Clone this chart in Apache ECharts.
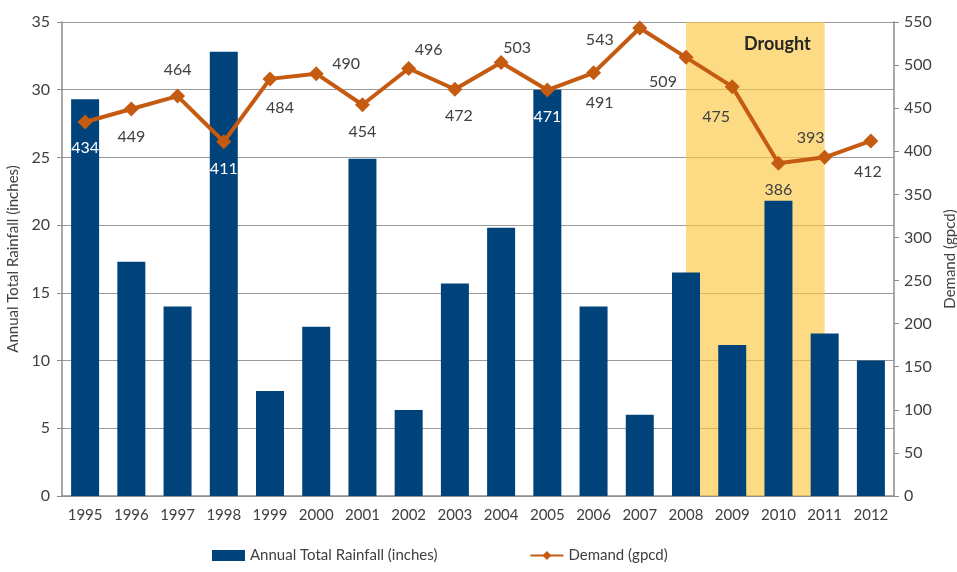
<!DOCTYPE html>
<html>
<head>
<meta charset="utf-8">
<script src="https://cdn.jsdelivr.net/npm/echarts@6/dist/echarts.min.js"></script>
<style>
  html, body { margin: 0; padding: 0; background: #fff; }
  #chart { width: 957px; height: 572px; }
</style>
</head>
<body>
<div id="chart"></div>
<script>
// 数据
var years = ['1995', '1996', '1997', '1998', '1999', '2000', '2001', '2002', '2003',
             '2004', '2005', '2006', '2007', '2008', '2009', '2010', '2011', '2012'];
var rainfall = [29.3, 17.3, 14.0, 32.8, 7.75, 12.5, 24.9, 6.35, 15.7,
                19.8, 30.0, 14.0, 6.0, 16.5, 11.15, 21.8, 12.0, 10.0];
var demand = [434, 449, 464, 411, 484, 490, 454, 496, 472,
              503, 471, 491, 543, 509, 475, 386, 393, 412];
var droughtRange = ['2008', '2011'];

// 标签摆放（相对数据点的偏移，像 Excel 里手动拖过的那样）
var labelPlace = {
    '1995': [0, 26], '1996': [0, 28], '1997': [0, -26], '1998': [0, 27],
    '1999': [10, 29], '2000': [30, -10], '2001': [0, 27], '2002': [20, -19],
    '2003': [4, 27], '2004': [16, -15], '2005': [0, 27], '2006': [6, 30],
    '2007': [-40, 12], '2008': [-23, 25], '2009': [-16, 30], '2010': [0, 27],
    '2011': [-14, -19], '2012': [-3, 31]
};
var labelsInBar = ['1995', '1998', '2005']; // 柱子里的白字

var font = 'Lato, "Open Sans", sans-serif';
var textColor = '#404040';

var demandData = demand.map(function (v, i) {
    var y = years[i];
    return {
        value: v,
        label: {
            offset: labelPlace[y],
            color: labelsInBar.indexOf(y) >= 0 ? '#ffffff' : textColor
        }
    };
});

var myChart = echarts.init(document.getElementById('chart'));
var option = {
    animation: false,
    textStyle: { fontFamily: font },
    grid: { left: 62, right: 63, top: 22, bottom: 76, outerBoundsMode: 'none' },
    legend: {
        bottom: 4,
        left: 207,
        itemGap: 92,
        itemWidth: 33,
        itemHeight: 11,
        textStyle: { fontFamily: font, fontSize: 15, color: textColor },
        data: [
            { name: 'Annual Total Rainfall (inches)', icon: 'rect' },
            { name: 'Demand (gpcd)' }
        ]
    },
    xAxis: [{
        type: 'category',
        data: years,
        axisLine: { lineStyle: { color: '#8c8c8c', width: 1.5 } },
        axisTick: { show: false },
        axisLabel: { color: textColor, fontSize: 15, margin: 12 }
    }, {
        // 隐藏的数值轴，只用来把干旱区画在柱子中线之间
        type: 'value',
        show: false,
        min: -0.5,
        max: years.length - 0.5
    }],
    yAxis: [{
        type: 'value',
        min: 0, max: 35, interval: 5,
        name: 'Annual Total Rainfall (inches)',
        nameLocation: 'middle',
        nameGap: 40,
        nameTextStyle: { color: textColor, fontSize: 15, fontFamily: font },
        axisLine: { show: true, onZero: false, lineStyle: { color: '#8c8c8c', width: 1.5 } },
        axisTick: { show: true, length: 5, lineStyle: { color: '#8c8c8c' } },
        axisLabel: { color: textColor, fontSize: 16, margin: 12 },
        splitLine: { lineStyle: { color: '#9a9a9a', width: 1.2 } }
    }, {
        type: 'value',
        min: 0, max: 550, interval: 50,
        name: 'Demand (gpcd)',
        nameLocation: 'middle',
        nameGap: 46,
        nameRotate: 90,
        nameTextStyle: { color: textColor, fontSize: 15, fontFamily: font },
        axisLine: { show: true, onZero: false, lineStyle: { color: '#8c8c8c', width: 1.5 } },
        axisTick: { show: true, length: 5, lineStyle: { color: '#8c8c8c' } },
        axisLabel: { color: textColor, fontSize: 16, margin: 10 },
        splitLine: { show: false }
    }],
    series: [{
        type: 'line',
        xAxisIndex: 1,
        yAxisIndex: 0,
        data: [],
        silent: true,
        z: 1,
        markArea: {
            silent: true,
            itemStyle: { color: 'rgba(252,200,70,0.66)' },
            label: {
                show: true,
                position: 'insideTopRight',
                offset: [-9, 8],
                color: '#262626',
                fontSize: 18,
                fontWeight: 'bold',
                fontFamily: font
            },
            data: [[
                { name: 'Drought', xAxis: years.indexOf(droughtRange[0]) },
                { xAxis: years.indexOf(droughtRange[1]) }
            ]]
        }
    }, {
        name: 'Annual Total Rainfall (inches)',
        type: 'bar',
        data: rainfall,
        barWidth: 28,
        itemStyle: { color: '#00437b' },
        z: 2
    }, {
        name: 'Demand (gpcd)',
        type: 'line',
        yAxisIndex: 1,
        data: demandData,
        symbol: 'diamond',
        symbolSize: 15,
        lineStyle: { color: '#c55a11', width: 4 },
        itemStyle: { color: '#c55a11' },
        label: {
            show: true,
            position: 'inside',
            fontSize: 16,
            fontFamily: font
        },
        z: 5
    }]
};
myChart.setOption(option);
</script>
</body>
</html>
